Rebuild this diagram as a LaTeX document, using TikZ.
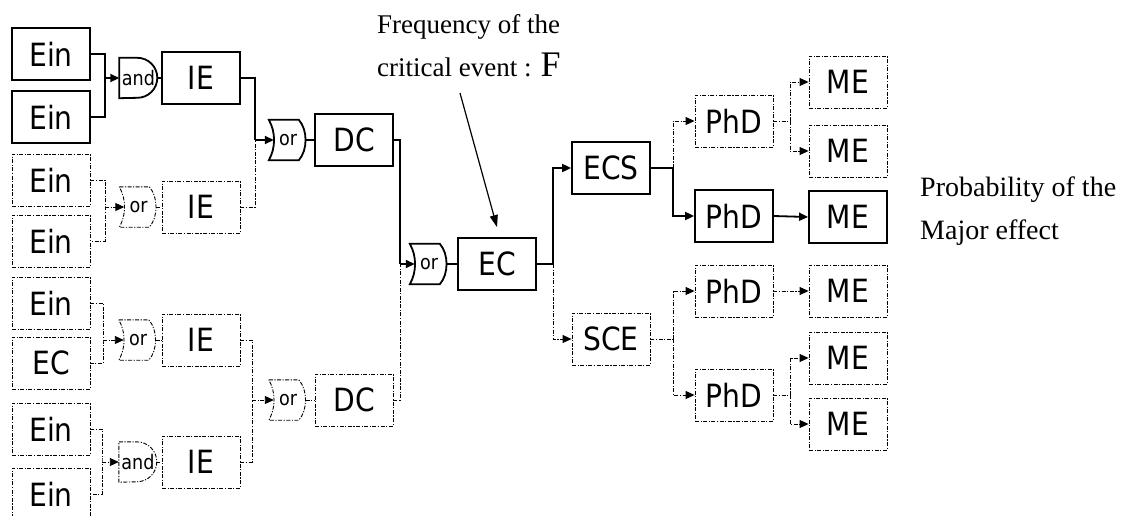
\documentclass[tikz,border=0pt]{standalone}
\usepackage{fontspec}
\setmainfont{Liberation Serif}
\newfontfamily\boxfont[FakeStretch=0.88]{DejaVu Sans}
\usetikzlibrary{arrows.meta,calc}
\tikzset{
  crit/.style={line width=1.8pt},
  weak/.style={line width=0.9pt, dash pattern=on 4pt off 1.5pt on 1.2pt off 1.5pt},
  box/.style={draw, minimum width=78pt, minimum height=52pt, inner sep=0pt, font=\boxfont\fontsize{32}{36}\selectfont},
  gate/.style={minimum width=38pt, minimum height=40pt, inner sep=0pt, font=\boxfont\fontsize{20}{22}\selectfont},
  tip/.style={-{Triangle[length=9pt,width=8pt]}},
  lbl/.style={anchor=base west, inner sep=0pt, font=\fontsize{27}{30}\selectfont},
}
\newcommand\andshape[2]{\draw[#2] (#1.north west) -- ([xshift=18pt]#1.north west) arc[start angle=90,end angle=-90,radius=20pt] -- (#1.south west) -- cycle;}
\newcommand\orshape[2]{\draw[#2] (#1.north west) -- ([xshift=30pt]#1.north west) .. controls ([xshift=39pt,yshift=-10pt]#1.north west) and ([xshift=39pt,yshift=10pt]#1.south west) .. ([xshift=30pt]#1.south west) -- (#1.south west) .. controls ([xshift=7pt,yshift=12pt]#1.south west) and ([xshift=7pt,yshift=-12pt]#1.north west) .. (#1.north west) -- cycle;}
\begin{document}
\begin{tikzpicture}[x=1pt,y=-1pt]
\path[use as bounding box] (0,0) rectangle (1121,515);
\clip (0,0) rectangle (1121,515);
% left column
\node[box,crit] (e1) at (51,54) {Ein};
\node[box,crit] (e2) at (51,117) {Ein};
\node[box,weak] (e3) at (51,180) {Ein};
\node[box,weak] (e4) at (51,241) {Ein};
\node[box,weak] (e5) at (51,303) {Ein};
\node[box,weak] (e6) at (51,363) {EC};
\node[box,weak] (e7) at (51,429) {Ein};
\node[box,weak] (e8) at (51,494) {Ein};
% first gates
\node[gate] (g1) at (138.5,78) {and}; \andshape{g1}{crit}
\node[gate] (g2) at (138.5,207) {or}; \orshape{g2}{weak}
\node[gate] (g3) at (138,340) {or}; \orshape{g3}{weak}
\node[gate] (g4) at (138,462) {and}; \andshape{g4}{weak}
% IE
\node[box,crit] (ie1) at (201,78) {IE};
\node[box,weak] (ie2) at (201,207) {IE};
\node[box,weak] (ie3) at (201,340) {IE};
\node[box,weak] (ie4) at (201,462) {IE};
% second gates and DC
\node[gate] (g5) at (288,140) {or}; \orshape{g5}{crit}
\node[gate] (g6) at (288,400) {or}; \orshape{g6}{weak}
\node[box,crit] (dc1) at (354,140) {DC};
\node[box,weak] (dc2) at (354,400) {DC};
% EC
\node[gate] (g7) at (429,264) {or}; \orshape{g7}{crit}
\node[box,crit] (ec) at (497,264) {EC};
% right part
\node[box,crit] (ecs) at (611,168) {ECS};
\node[box,weak] (sce) at (611,339) {SCE};
\node[box,weak] (p1) at (734,121) {PhD};
\node[box,crit] (p2) at (734,216) {PhD};
\node[box,weak] (p3) at (734,291) {PhD};
\node[box,weak] (p4) at (734,395) {PhD};
\node[box,weak] (m1) at (848,82) {ME};
\node[box,weak] (m2) at (848,151) {ME};
\node[box,crit] (m3) at (848,217) {ME};
\node[box,weak] (m4) at (848,291) {ME};
\node[box,weak] (m5) at (848,358) {ME};
\node[box,weak] (m6) at (848,424) {ME};
% junctions
\coordinate (j1) at (105,78);
\coordinate (j2) at (105,207);
\coordinate (j3) at (103,340);
\coordinate (j4) at (102,462);
\coordinate (j5) at (255,140);
\coordinate (j6) at (252,400);
\coordinate (j7) at (400,264);
\coordinate (j8) at (553,264);
\coordinate (j9) at (673,168);
\coordinate (j10) at (673,339);
\coordinate (j11) at (790,121);
\coordinate (j12) at (790,395);
% connectors, level 1
\draw[crit] (e1.east) -| (j1) |- (e2.east);
\draw[crit,tip] (j1) -- (g1.west);
\draw[weak] (e3.east) -| (j2) |- (e4.east);
\draw[weak,tip] (j2) -- ([xshift=5pt]g2.west);
\draw[weak] (e5.east) -| (j3) |- (e6.east);
\draw[weak,tip] (j3) -- ([xshift=5pt]g3.west);
\draw[weak] (e7.east) -| (j4) |- (e8.east);
\draw[weak,tip] (j4) -- (g4.west);
\draw[crit] ([xshift=-1pt]g1.east) -- (ie1.west);
\draw[weak] ([xshift=-1.5pt]g2.east) -- (ie2.west);
\draw[weak] ([xshift=-1.5pt]g3.east) -- (ie3.west);
\draw[weak] ([xshift=-1pt]g4.east) -- (ie4.west);
% level 2
\draw[crit] (ie1.east) -| (j5);
\draw[weak] (ie2.east) -| (j5);
\draw[crit,tip] (j5) -- ([xshift=5pt]g5.west);
\draw[weak] (ie3.east) -| (j6);
\draw[weak] (ie4.east) -| (j6);
\draw[weak,tip] (j6) -- ([xshift=5pt]g6.west);
\draw[crit] ([xshift=-1.5pt]g5.east) -- (dc1.west);
\draw[weak] ([xshift=-1.5pt]g6.east) -- (dc2.west);
% level 3
\draw[crit] (dc1.east) -| (j7);
\draw[weak] (dc2.east) -| (j7);
\draw[crit,tip] (j7) -- ([xshift=5pt]g7.west);
\draw[crit] ([xshift=-1.5pt]g7.east) -- (ec.west);
% event tree
\draw[crit] (ec.east) -- (j8);
\draw[crit,tip] (j8) |- (ecs.west);
\draw[weak,tip] (j8) |- (sce.west);
\draw[crit] (ecs.east) -- (j9);
\draw[weak,tip] (j9) |- (p1.west);
\draw[crit,tip] (j9) |- (p2.west);
\draw[weak] (sce.east) -- (j10);
\draw[weak,tip] (j10) |- (p3.west);
\draw[weak,tip] (j10) |- (p4.west);
\draw[weak] (p1.east) -- (j11);
\draw[weak,tip] (j11) |- (m1.west);
\draw[weak,tip] (j11) |- (m2.west);
\draw[crit,tip] (p2.east) -- (m3.west);
\draw[weak,tip] (p3.east) -- (m4.west);
\draw[weak] (p4.east) -- (j12);
\draw[weak,tip] (j12) |- (m5.west);
\draw[weak,tip] (j12) |- (m6.west);
% labels
\node[lbl] (f1) at (377,33) {Frequency of the};
\node[lbl] (f2) at (377,76) {critical event : {\fontsize{36}{40}\selectfont F}};
\coordinate (fa) at (460,93);
\draw[line width=1.2pt,-{Triangle[length=12pt,width=8pt]}] (fa) -- ([yshift=10pt]ec.north);
\node[lbl,font=\fontsize{28}{31}\selectfont] (pr1) at (920,196) {Probability of the};
\node[lbl,font=\fontsize{28}{31}\selectfont] (pr2) at (920,239) {Major effect};
\end{tikzpicture}
\end{document}
